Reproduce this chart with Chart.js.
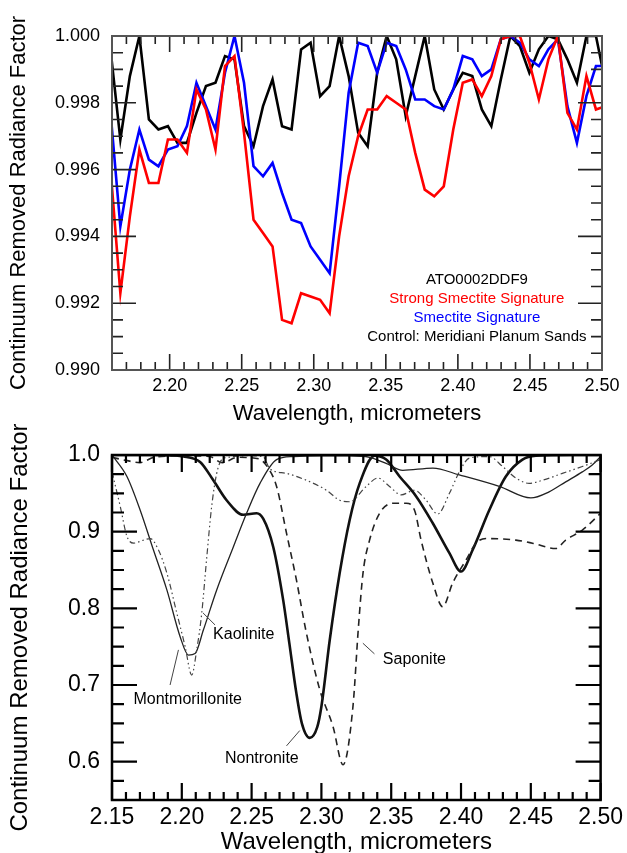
<!DOCTYPE html>
<html>
<head>
<meta charset="utf-8">
<script src="https://cdn.jsdelivr.net/npm/chart.js@4.4.0/dist/chart.umd.min.js"></script>
<style>
  html, body { margin: 0; padding: 0; background: #fff; overflow: hidden; }
  #wrap { position: relative; width: 627px; height: 853px; overflow: hidden; }
  #topChart { position: absolute; left: 0; top: 0; }
  #bottomChart { position: absolute; left: 0; top: 415px; }
</style>
</head>
<body>
<div id="wrap">
  <canvas id="topChart" width="627" height="430"></canvas>
  <canvas id="bottomChart" width="627" height="455"></canvas>
</div>
<script>
// ---- top panel: CRISM spectra (ATO0002DDF9) ----
var crismWl = [2.1592, 2.1658, 2.1724, 2.1790, 2.1856, 2.1922, 2.1988, 2.2054, 2.2120, 2.2186,
               2.2252, 2.2318, 2.2384, 2.2450, 2.2516, 2.2582, 2.2648, 2.2714, 2.2780, 2.2846,
               2.2912, 2.2978, 2.3044, 2.3110, 2.3176, 2.3242, 2.3308, 2.3374, 2.3440, 2.3506,
               2.3572, 2.3638, 2.3704, 2.3770, 2.3836, 2.3902, 2.3968, 2.4034, 2.4100, 2.4166,
               2.4232, 2.4298, 2.4364, 2.4430, 2.4496, 2.4562, 2.4628, 2.4694, 2.4760, 2.4826,
               2.4892, 2.4958, 2.5024];
var strongSmectite = [0.9959, 0.9923, 0.9946, 0.9966, 0.9956, 0.9956, 0.9969, 0.9969, 0.9965, 0.9984,
                      0.9978, 0.9966, 0.9991, 0.9994, 0.9971, 0.9945, 0.9941, 0.9937, 0.9915, 0.9914,
                      0.9923, 0.9922, 0.9921, 0.9917, 0.9940, 0.9958, 0.9970, 0.9978, 0.9978, 0.9982,
                      0.9980, 0.9978, 0.9965, 0.9954, 0.9952, 0.9955, 0.9972, 0.9986, 0.9987, 0.9982,
                      0.9988, 0.9999, 1.0000, 1.0000, 0.9992, 0.9981, 0.9993, 1.0000, 0.9977, 0.9972,
                      0.9988, 0.9978, 0.9979];
var smectite = [0.9976, 0.9943, 0.9960, 0.9972, 0.9963, 0.9961, 0.9966, 0.9967, 0.9973, 0.9986,
                0.9979, 0.9972, 0.9989, 1.0000, 0.9986, 0.9961, 0.9958, 0.9962, 0.9953, 0.9945,
                0.9944, 0.9937, 0.9933, 0.9929, 0.9955, 0.9983, 0.9998, 0.9997, 0.9989, 0.9998,
                0.9997, 0.9990, 0.9981, 0.9981, 0.9979, 0.9978, 0.9984, 0.9994, 0.9993, 0.9988,
                0.9990, 0.9999, 1.0000, 0.9998, 0.9993, 0.9991, 0.9996, 0.9999, 0.9979, 0.9968,
                0.9982, 0.9991, 0.9991];
var controlSands = [0.9995, 0.9969, 0.9988, 1.0000, 0.9975, 0.9972, 0.9973, 0.9968, 0.9968, 0.9977,
                    0.9985, 0.9986, 0.9994, 0.9993, 0.9973, 0.9967, 0.9979, 0.9987, 0.9973, 0.9972,
                    0.9996, 0.9998, 0.9982, 0.9985, 1.0000, 0.9988, 0.9971, 0.9967, 0.9989, 1.0000,
                    0.9993, 0.9976, 0.9988, 1.0000, 0.9984, 0.9978, 0.9984, 0.9989, 0.9988, 0.9978,
                    0.9973, 0.9987, 1.0000, 0.9997, 0.9989, 0.9996, 1.0000, 0.9999, 0.9993, 0.9986,
                    1.0000, 1.0000, 0.9986];
var topXTicks = [2.20, 2.25, 2.30, 2.35, 2.40, 2.45, 2.50];
var topXLabels = ['2.20', '2.25', '2.30', '2.35', '2.40', '2.45', '2.50'];
var topYTicks = [0.990, 0.992, 0.994, 0.996, 0.998, 1.000];
var topYLabels = ['0.990', '0.992', '0.994', '0.996', '0.998', '1.000'];

// ---- bottom panel: library spectra ----
var kaolWl = [2.150, 2.1559, 2.1607, 2.1655, 2.1726, 2.1774, 2.1833, 2.1893, 2.1964, 2.2024,
              2.2071, 2.2107, 2.2143, 2.2179, 2.2214, 2.2250, 2.2286, 2.2333, 2.2450, 2.2580,
              2.2631, 2.2750, 2.2893, 2.3036, 2.3131, 2.3202, 2.3321, 2.3405, 2.3488, 2.3571,
              2.3667, 2.3750, 2.3833, 2.3917, 2.3988, 2.4060, 2.4202, 2.4298, 2.4393, 2.4488,
              2.4583, 2.4726, 2.4869, 2.5000];
var kaolRf = [0.978, 0.933, 0.894, 0.885, 0.889, 0.891, 0.876, 0.846, 0.794, 0.750,
              0.713, 0.746, 0.794, 0.867, 0.933, 0.976, 0.994, 0.997, 0.999, 0.998,
              0.982, 0.976, 0.967, 0.954, 0.941, 0.939, 0.959, 0.970, 0.959, 0.948,
              0.954, 0.941, 0.923, 0.950, 0.978, 0.996, 0.998, 0.985, 0.970, 0.963,
              0.967, 0.976, 0.985, 0.994];
var montWl = [2.150, 2.1607, 2.1702, 2.1797, 2.1893, 2.1988, 2.2048, 2.2095, 2.2155, 2.2250,
              2.2369, 2.2464, 2.2560, 2.2679, 2.2800, 2.3000, 2.3200, 2.3345, 2.3464, 2.3583,
              2.3798, 2.3988, 2.4274, 2.4500, 2.4631, 2.4750, 2.4869, 2.4940, 2.5000];
var montRf = [1.000, 0.972, 0.928, 0.876, 0.824, 0.763, 0.739, 0.741, 0.772, 0.824,
              0.880, 0.924, 0.963, 0.994, 0.998, 0.999, 0.999, 0.997, 0.989, 0.980,
              0.983, 0.974, 0.959, 0.944, 0.952, 0.965, 0.978, 0.987, 0.998];
var nontWl = [2.150, 2.180, 2.2012, 2.2131, 2.2226, 2.2321, 2.2440, 2.2536, 2.2583, 2.2655,
              2.2726, 2.2770, 2.2820, 2.2860, 2.2917, 2.2970, 2.3000, 2.3060, 2.3130, 2.3202,
              2.3274, 2.3381, 2.3464, 2.3560, 2.3679, 2.3798, 2.3917, 2.4000, 2.4083, 2.4202,
              2.4321, 2.4440, 2.4536, 2.4800, 2.5000];
var nontRf = [1.000, 1.000, 0.998, 0.991, 0.967, 0.941, 0.922, 0.924, 0.917, 0.880,
              0.811, 0.755, 0.690, 0.650, 0.631, 0.645, 0.672, 0.759, 0.845, 0.915,
              0.963, 0.999, 0.994, 0.972, 0.946, 0.911, 0.872, 0.848, 0.876, 0.928,
              0.972, 0.994, 0.999, 1.000, 1.000];
var sapWl = [2.150, 2.160, 2.170, 2.180, 2.200, 2.220, 2.229, 2.240, 2.255, 2.2619,
             2.2679, 2.2750, 2.2821, 2.2890, 2.2988, 2.3083, 2.3155, 2.3226, 2.3265, 2.3298,
             2.3345, 2.3417, 2.3512, 2.3607, 2.3667, 2.3714, 2.3798, 2.3869, 2.3940, 2.4036,
             2.4107, 2.4179, 2.4393, 2.4512, 2.4679, 2.4750, 2.4869, 2.5000];
var sapRf = [0.997, 0.993, 0.990, 0.997, 0.999, 0.998, 0.990, 0.997, 0.995, 0.983,
             0.959, 0.898, 0.837, 0.770, 0.694, 0.646, 0.596, 0.672, 0.775, 0.846,
             0.889, 0.924, 0.937, 0.937, 0.928, 0.889, 0.833, 0.802, 0.833, 0.863,
             0.885, 0.891, 0.889, 0.885, 0.878, 0.889, 0.902, 0.924];
var botXTicks = [2.15, 2.20, 2.25, 2.30, 2.35, 2.40, 2.45, 2.50];
var botXLabels = ['2.15', '2.20', '2.25', '2.30', '2.35', '2.40', '2.45', '2.50'];
var botYTicks = [0.6, 0.7, 0.8, 0.9, 1.0];
var botYLabels = ['0.6', '0.7', '0.8', '0.9', '1.0'];

var FONT = '"Liberation Sans", Arial, Helvetica, sans-serif';
Chart.defaults.font.family = FONT;
Chart.defaults.color = '#000';

function pairs(xs, ys) {
    return xs.map(function (x, i) { return {x: x, y: ys[i]}; });
}

// box frame with inward major/minor ticks on all four sides
function makeFrame(o) {
    return {
        id: 'frameTicks',
        afterDatasetsDraw: function (chart) {
            var ctx = chart.ctx, a = chart.chartArea;
            var xs = chart.scales.x, ys = chart.scales.y;
            ctx.save();
            ctx.strokeStyle = o.tickColor;
            ctx.lineWidth = o.tickWidth;
            ctx.beginPath();
            var n = Math.round((xs.max - xs.min) / o.xStep);
            for (var i = 0; i <= n; i++) {
                var v = xs.min + i * o.xStep;
                var major = xs.ticks.some(function (t) { return Math.abs(t.value - v) < o.xStep / 10; });
                var len = major ? o.xMajor : o.xMinor;
                var px = xs.getPixelForValue(v);
                ctx.moveTo(px, a.bottom); ctx.lineTo(px, a.bottom - len);
                ctx.moveTo(px, a.top); ctx.lineTo(px, a.top + len);
            }
            n = Math.round((ys.max - ys.min) / o.yStep);
            for (var j = 0; j <= n; j++) {
                var w = ys.min + j * o.yStep;
                var majorY = ys.ticks.some(function (t) { return Math.abs(t.value - w) < o.yStep / 10; });
                var leny = majorY ? o.yMajor : o.yMinor;
                var py = ys.getPixelForValue(w);
                ctx.moveTo(a.left, py); ctx.lineTo(a.left + leny, py);
                ctx.moveTo(a.right, py); ctx.lineTo(a.right - leny, py);
            }
            ctx.stroke();
            ctx.strokeStyle = o.frameColor;
            ctx.lineWidth = o.frameWidth;
            ctx.strokeRect(a.left, a.top, a.width, a.height);
            ctx.restore();
        }
    };
}

// free text and leader lines, placed in data coordinates
function makeNotes(font, texts, leaders) {
    return {
        id: 'notes',
        afterDatasetsDraw: function (chart) {
            var ctx = chart.ctx, xs = chart.scales.x, ys = chart.scales.y;
            ctx.save();
            ctx.font = font;
            ctx.textBaseline = 'middle';
            texts.forEach(function (t) {
                ctx.fillStyle = t.color || '#000';
                ctx.textAlign = t.align || 'left';
                ctx.fillText(t.text, xs.getPixelForValue(t.x), ys.getPixelForValue(t.y));
            });
            ctx.strokeStyle = '#444';
            ctx.lineWidth = 1;
            leaders.forEach(function (l) {
                ctx.beginPath();
                ctx.moveTo(xs.getPixelForValue(l[0]), ys.getPixelForValue(l[1]));
                ctx.lineTo(xs.getPixelForValue(l[2]), ys.getPixelForValue(l[3]));
                ctx.stroke();
            });
            ctx.restore();
        }
    };
}

function axisX(min, max, ticks, labels, height, tickFont, tickPad, titleFont, titlePad) {
    return {
        type: 'linear', min: min, max: max,
        grid: {display: false, drawTicks: false},
        border: {display: false},
        afterBuildTicks: function (s) { s.ticks = ticks.map(function (v) { return {value: v}; }); },
        afterFit: function (s) { s.height = height; },
        ticks: {autoSkip: false, maxRotation: 0, padding: tickPad, font: {size: tickFont},
                callback: function (v, i) { return labels[i]; }},
        title: {display: true, text: 'Wavelength, micrometers', font: {size: titleFont}, padding: titlePad}
    };
}

function axisY(min, max, ticks, labels, tickFont, titleFont, titlePad) {
    return {
        min: min, max: max,
        grid: {display: false, drawTicks: false},
        border: {display: false},
        afterBuildTicks: function (s) { s.ticks = ticks.map(function (v) { return {value: v}; }); },
        afterFit: function (s) { s.width = 112; },
        ticks: {autoSkip: false, padding: 12, font: {size: tickFont},
                callback: function (v, i) { return labels[i]; }},
        title: {display: true, text: 'Continuum Removed Radiance Factor', font: {size: titleFont}, padding: titlePad}
    };
}

document.addEventListener('DOMContentLoaded', function () {
    // Top chart
    new Chart(document.getElementById('topChart'), {
        type: 'line',
        data: {
            datasets: [
                {label: 'Strong Smectite Signature', data: pairs(crismWl, strongSmectite), borderColor: '#ff0000'},
                {label: 'Smectite Signature', data: pairs(crismWl, smectite), borderColor: '#0000ff'},
                {label: 'Control: Meridiani Planum Sands', data: pairs(crismWl, controlSands), borderColor: '#000000'}
            ]
        },
        options: {
            responsive: false,
            animation: false,
            layout: {padding: {top: 36, right: 25, left: 0, bottom: 0}},
            elements: {point: {radius: 0}, line: {tension: 0, borderWidth: 2.6}},
            plugins: {legend: {display: false}, tooltip: {enabled: false}},
            scales: {
                x: axisX(2.16, 2.50, topXTicks, topXLabels, 60, 18, 5, 22, 3),
                y: axisY(0.990, 1.000, topYTicks, topYLabels, 18, 22, 6)
            }
        },
        plugins: [
            makeFrame({tickColor: '#222', tickWidth: 1.6, frameColor: '#555', frameWidth: 2,
                       xStep: 0.01, xMajor: 16, xMinor: 8, yStep: 0.0005, yMajor: 24, yMinor: 11}),
            makeNotes('15px ' + FONT, [
                {text: 'ATO0002DDF9', x: 2.4132, y: 0.99269, align: 'center'},
                {text: 'Strong Smectite Signature', x: 2.4132, y: 0.99213, align: 'center', color: '#ff0000'},
                {text: 'Smectite Signature', x: 2.4132, y: 0.99156, align: 'center', color: '#0000ff'},
                {text: 'Control: Meridiani Planum Sands', x: 2.4132, y: 0.99099, align: 'center'}
            ], [])
        ]
    });

    // Bottom chart
    new Chart(document.getElementById('bottomChart'), {
        type: 'line',
        data: {
            datasets: [
                {label: 'Kaolinite', data: pairs(kaolWl, kaolRf), borderColor: '#444',
                 borderWidth: 1.2, borderDash: [6, 3, 1.5, 3, 1.5, 3]},
                {label: 'Montmorillonite', data: pairs(montWl, montRf), borderColor: '#222', borderWidth: 1.3},
                {label: 'Saponite', data: pairs(sapWl, sapRf), borderColor: '#222',
                 borderWidth: 1.6, borderDash: [7, 5]},
                {label: 'Nontronite', data: pairs(nontWl, nontRf), borderColor: '#111', borderWidth: 2.6}
            ]
        },
        options: {
            responsive: false,
            animation: false,
            layout: {padding: {top: 40, right: 25, left: 0, bottom: 0}},
            elements: {point: {radius: 0}, line: {cubicInterpolationMode: 'monotone'}},
            plugins: {legend: {display: false}, tooltip: {enabled: false}},
            scales: {
                x: axisX(2.15, 2.50, botXTicks, botXLabels, 70, 23, 4, 24, 13),
                y: axisY(0.55, 1.0, botYTicks, botYLabels, 23, 24, 6)
            }
        },
        plugins: [
            makeFrame({tickColor: '#000', tickWidth: 2.2, frameColor: '#000', frameWidth: 2.5,
                       xStep: 0.01, xMajor: 17, xMinor: 8, yStep: 0.025, yMajor: 25, yMinor: 12}),
            makeNotes('16px ' + FONT, [
                {text: 'Kaolinite', x: 2.2224, y: 0.7653},
                {text: 'Montmorillonite', x: 2.1654, y: 0.6806},
                {text: 'Nontronite', x: 2.2309, y: 0.604},
                {text: 'Saponite', x: 2.344, y: 0.7327}
            ], [
                [2.2238, 0.7784, 2.2152, 0.794],
                [2.1916, 0.700, 2.1976, 0.7458],
                [2.275, 0.6206, 2.2845, 0.6406],
                [2.3297, 0.7545, 2.338, 0.7406]
            ])
        ]
    });
});
</script>
</body>
</html>
